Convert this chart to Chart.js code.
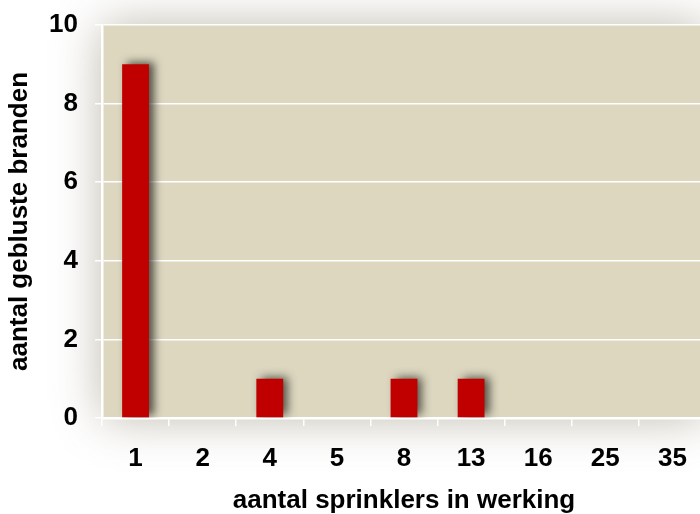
<!DOCTYPE html>
<html>
<head>
<meta charset="utf-8">
<script src="https://cdn.jsdelivr.net/npm/chart.js@4"></script>
<style>
  html, body { margin: 0; padding: 0; background: #fff; overflow: hidden; }
  #wrap { width: 706px; height: 514px; }
</style>
</head>
<body>
<div id="wrap"><canvas id="chart" width="706" height="514"></canvas></div>
<script>
// sprinklers in werking vs aantal gebluste branden
const categories = ['1', '2', '4', '5', '8', '13', '16', '25', '35'];
const branden = [9, 0, 1, 0, 1, 1, 0, 0, 0];
const yMax = 10;
const yStep = 2;

const plotBg = {
    id: 'plotBg',
    beforeDraw(chart) {
        const { ctx, chartArea: a } = chart;
        ctx.save();
        ctx.fillStyle = '#fff';
        ctx.fillRect(0, 0, chart.width, chart.height);
        ctx.shadowColor = 'rgba(110, 100, 70, 0.45)';
        ctx.shadowBlur = 45;
        ctx.fillStyle = '#ddd7c0';
        ctx.fillRect(a.left, a.top, a.right - a.left, a.bottom - a.top);
        ctx.restore();
    }
};

const barShadow = {
    id: 'barShadow',
    beforeDatasetsDraw(chart) {
        const ctx = chart.ctx;
        ctx.save();
        ctx.shadowColor = 'rgba(45, 45, 35, 0.8)';
        ctx.shadowBlur = 9;
        ctx.shadowOffsetX = 5;
        ctx.shadowOffsetY = -2;
    },
    afterDatasetsDraw(chart) {
        chart.ctx.restore();
    }
};

const font = { family: '"Liberation Sans", Arial, sans-serif', size: 26, weight: 'bold' };

new Chart(document.getElementById('chart'), {
    type: 'bar',
    data: {
        labels: categories,
        datasets: [{
            data: branden,
            backgroundColor: '#c00000',
            borderWidth: 0,
            categoryPercentage: 1,
            barPercentage: 0.4
        }]
    },
    options: {
        responsive: false,
        animation: false,
        layout: { padding: { top: 25, left: 0, right: 0, bottom: 0 } },
        plugins: {
            legend: { display: false },
            tooltip: { enabled: false }
        },
        scales: {
            x: {
                afterFit(s) { s.height = 96; s.paddingLeft = 0; s.paddingRight = 0; },
                grid: { color: '#fff', lineWidth: 1.5, drawOnChartArea: false, tickLength: 8 },
                border: { color: '#fff', width: 2.5 },
                ticks: { color: '#000', font: font, padding: 17, maxRotation: 0 },
                title: {
                    display: true, text: 'aantal sprinklers in werking', color: '#000',
                    font: { ...font, lineHeight: 1 }, padding: { top: 0, bottom: 0 }
                }
            },
            y: {
                min: 0, max: yMax,
                afterFit(s) { s.width = 102; s.paddingTop = 0; s.paddingBottom = 0; },
                grid: { color: '#fff', lineWidth: 1.5, tickLength: 7 },
                border: { color: '#fff', width: 2.5 },
                ticks: { stepSize: yStep, color: '#000', font: font, padding: 17 },
                title: {
                    display: true, text: 'aantal gebluste branden', color: '#000',
                    font: font, padding: { top: 4, bottom: 0 }
                }
            }
        }
    },
    plugins: [plotBg, barShadow]
});
</script>
</body>
</html>
